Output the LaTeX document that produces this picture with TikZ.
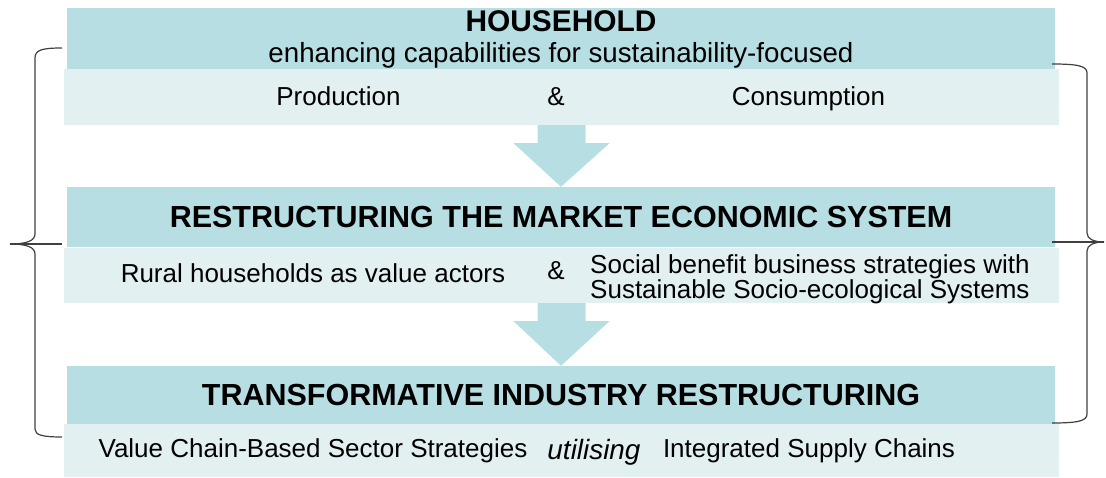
\documentclass[tikz,border=0pt]{standalone}
\usepackage{fontspec}
\setmainfont{Liberation Sans}
\usetikzlibrary{calc}
\definecolor{tealdark}{RGB}{183,223,227}
\definecolor{teallight}{RGB}{226,240,242}
\definecolor{bracegray}{RGB}{64,64,64}

\begin{document}
\begin{tikzpicture}[x=1bp, y=-1bp,
  headbox/.style={rectangle, fill=tealdark, inner sep=0pt, minimum width=988bp, font=\fontsize{30.6}{36}\selectfont\bfseries},
  lowbox/.style={rectangle, fill=teallight, inner sep=0pt, minimum width=995bp},
  body/.style={inner sep=0pt, anchor=base, font=\fontsize{26.1}{23.5}\selectfont},
  flow/.style={fill=tealdark},
  brace/.style={draw=bracegray, line width=1.2bp}]

\useasboundingbox (0,0) rectangle (1106,478);

% the three levels
\node[headbox, minimum height=61bp] (head1) at (561,38.5) {};
\node[lowbox, minimum height=56bp] (low1) at (561.5,97) {};
\node[headbox, minimum height=60bp] (head2) at (561,217) {RESTRUCTURING THE MARKET ECONOMIC SYSTEM};
\node[lowbox, minimum height=55bp] (low2) at (561.5,275.5) {};
\node[headbox, minimum height=58bp] (head3) at (561,395) {TRANSFORMATIVE INDUSTRY RESTRUCTURING};
\node[lowbox, minimum height=53bp] (low3) at (561.5,450.5) {};

% block arrows between levels
\foreach \a/\b in {low1/head2, low2/head3} {
  \fill[flow] ($(\a.south)+(-24,0)$) -- ($(\a.south)+(24,0)$) -- ($(\a.south)+(24,18)$)
    -- ($(\a.south)+(48,18)$) -- (\b.north) -- ($(\a.south)+(-48,18)$)
    -- ($(\a.south)+(-24,18)$) -- cycle;
}

% texts
\node[body, font=\fontsize{30}{36}\selectfont\bfseries] (title1) at (561,32) {HOUSEHOLD};
\node[body, font=\fontsize{27.8}{30}\selectfont] (sub1) at (561,63) {enhancing capabilities for sustainability-focused};
\node[body] (prod) at (338.5,106) {Production};
\node[body] (amp1) at (556,106) {\&};
\node[body] (cons) at (808.5,106) {Consumption};

\node[body] (rural) at (313,283) {Rural households as value actors};
\node[body] (amp2) at (556,280) {\&};
\node[body, anchor=north west, align=left] (social) at (590,254) {Social benefit business strategies with\\Sustainable Socio-ecological Systems};

\node[body] (chain) at (313,457) {Value Chain-Based Sector Strategies};
\node[body, font=\fontsize{28}{30}\selectfont\itshape] (util) at (594,459) {utilising};
\node[body] (supply) at (809,457) {Integrated Supply Chains};

% braces
\coordinate (ltip) at (10,244);
\coordinate (rtip) at (1104,242);
\draw[brace] (62,48) .. controls (42,48) and (35,50) .. (35,58) -- (35,234)
  .. controls (35,241) and (26,244) .. (ltip)
  .. controls (26,244) and (35,247) .. (35,254) -- (35,429)
  .. controls (35,435) and (42,437) .. (62,437);
\draw[brace] (ltip) -- (62,244);
\draw[brace] (1052,64) .. controls (1078,64) and (1087,66) .. (1087,73) -- (1087,233)
  .. controls (1087,239) and (1094,242) .. (rtip)
  .. controls (1094,242) and (1087,245) .. (1087,251) -- (1087,414)
  .. controls (1087,421) and (1078,423) .. (1052,423);
\draw[brace] (1052,242) -- (rtip);
\end{tikzpicture}
\end{document}
